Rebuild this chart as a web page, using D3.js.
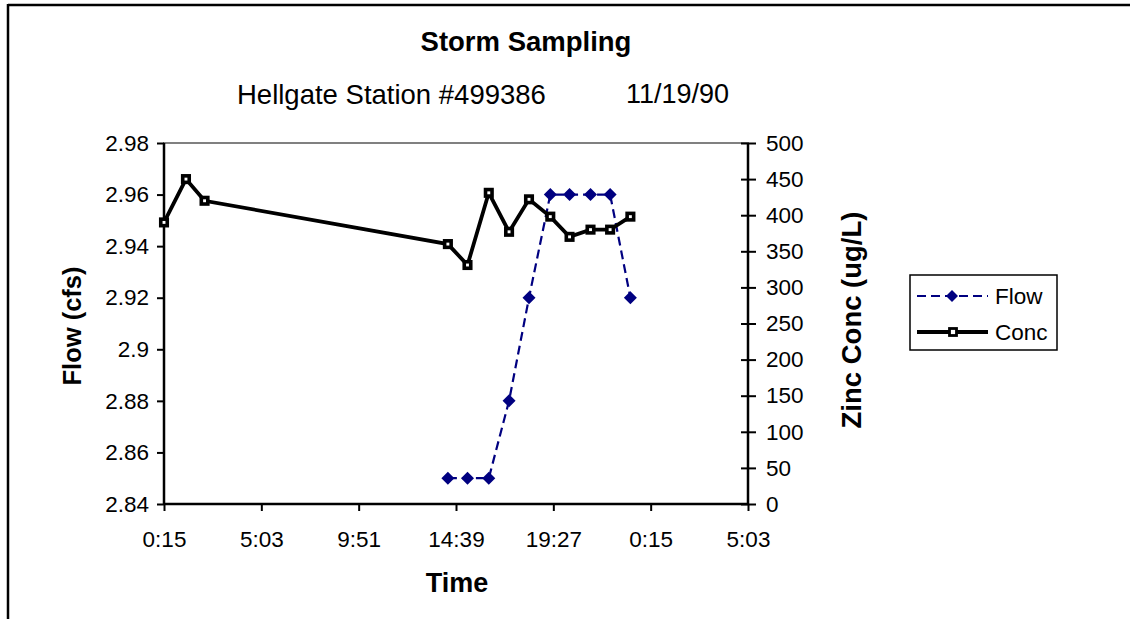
<!DOCTYPE html>
<html>
<head>
<meta charset="utf-8">
<script src="https://cdn.jsdelivr.net/npm/d3@7"></script>
<style>
  html, body { margin: 0; padding: 0; background: #fff; }
  svg { display: block; }
  text { font-family: "Liberation Sans", Arial, sans-serif; fill: #000; }
</style>
</head>
<body>
<svg id="chart" width="1130" height="619"></svg>
<script>
// ---- data ----
const concTimes = ["0:15","1:20","2:15","14:15","15:13","16:16","17:16","18:15","19:18","20:15","21:17","22:15","23:15"];
const concValues = [390, 450, 420, 360, 331, 431, 377, 422, 398, 370, 380, 380, 398];
const flowTimes = ["14:15","15:13","16:16","17:16","18:15","19:18","20:15","21:17","22:15","23:15"];
const flowValues = [2.85, 2.85, 2.85, 2.88, 2.92, 2.96, 2.96, 2.96, 2.96, 2.92];
const xTickLabels = ["0:15","5:03","9:51","14:39","19:27","0:15","5:03"];
const leftTickLabels = ["2.84","2.86","2.88","2.9","2.92","2.94","2.96","2.98"];
const rightTickLabels = ["0","50","100","150","200","250","300","350","400","450","500"];

const toHours = s => { const [h, m] = s.split(":").map(Number); return h + m / 60; };

const svg = d3.select("#chart");
const W = 1130, H = 619;
const L = 164, R = 748, T = 143, B = 504;

const x = d3.scaleLinear().domain([0.25, 29.05]).range([L, R]);
const yL = d3.scaleLinear().domain([2.84, 2.98]).range([B, T]);
const yR = d3.scaleLinear().domain([0, 500]).range([B, T]);

// outer frame (top and left edges visible)
svg.append("line").attr("x1", 8).attr("x2", W).attr("y1", 5).attr("y2", 5)
  .attr("stroke", "#000").attr("stroke-width", 2.5);
svg.append("line").attr("x1", 8).attr("x2", 8).attr("y1", 4).attr("y2", H)
  .attr("stroke", "#000").attr("stroke-width", 2.5);

// titles
svg.append("text").attr("x", 526).attr("y", 51).attr("text-anchor", "middle")
  .attr("font-size", 27.5).attr("font-weight", "bold").text("Storm Sampling");
svg.append("text").attr("x", 237).attr("y", 104)
  .attr("font-size", 27.5).text("Hellgate Station #499386");
svg.append("text").attr("x", 626).attr("y", 103)
  .attr("font-size", 27).text("11/19/90");

// plot area border (grey)
svg.append("rect").attr("x", L).attr("y", T).attr("width", R - L).attr("height", B - T)
  .attr("fill", "none").attr("stroke", "#808080").attr("stroke-width", 2);

// axes
const leftTickVals = leftTickLabels.map(Number);
const gL = svg.append("g").attr("transform", `translate(${L},0)`)
  .call(d3.axisLeft(yL).tickValues(leftTickVals).tickFormat((d, i) => leftTickLabels[i]).tickSize(7).tickPadding(8));
const rightTickVals = rightTickLabels.map(Number);
const gR = svg.append("g").attr("transform", `translate(${R},0)`)
  .call(d3.axisRight(yR).tickValues(rightTickVals).tickFormat((d, i) => rightTickLabels[i]).tickSize(8).tickPadding(10));
gR.selectAll(".tick line").attr("x1", -7);
const xTickVals = xTickLabels.map((d, i) => 0.25 + 4.8 * i);
const gB = svg.append("g").attr("transform", `translate(0,${B})`)
  .call(d3.axisBottom(x).tickValues(xTickVals).tickFormat((d, i) => xTickLabels[i]).tickSize(7).tickPadding(20));

[gL, gR, gB].forEach(g => {
  g.select(".domain").attr("stroke", "#000").attr("stroke-width", 2.5);
  g.selectAll(".tick line").attr("stroke", "#000").attr("stroke-width", 2);
  g.selectAll(".tick text").attr("font-size", 22.5).attr("font-family", "Liberation Sans, Arial, sans-serif").attr("fill", "#000");
});
gL.select(".domain").attr("d", `M0,${B}V${T}`);
gR.select(".domain").attr("d", `M0,${B}V${T}`);
gB.select(".domain").attr("d", `M${L},0H${R}`);

// axis titles
svg.append("text").attr("transform", "translate(81,326) rotate(-90)").attr("text-anchor", "middle")
  .attr("font-size", 25.5).attr("font-weight", "bold").text("Flow (cfs)");
svg.append("text").attr("transform", "translate(861,320) rotate(-90)").attr("text-anchor", "middle")
  .attr("font-size", 27.5).attr("font-weight", "bold").text("Zinc Conc (ug/L)");
svg.append("text").attr("x", 457).attr("y", 592).attr("text-anchor", "middle")
  .attr("font-size", 27).attr("font-weight", "bold").text("Time");

// flow series
const flowData = flowTimes.map((t, i) => ({ t: toHours(t), v: flowValues[i] }));
const navy = "#000080";
svg.append("path").datum(flowData)
  .attr("d", d3.line().x(d => x(d.t)).y(d => yL(d.v)))
  .attr("fill", "none").attr("stroke", navy).attr("stroke-width", 2.2).attr("stroke-dasharray", "9,5");
const diamond = s => `M0,${-s}L${s},0L0,${s}L${-s},0Z`;
svg.append("g").selectAll("path").data(flowData).join("path")
  .attr("transform", d => `translate(${x(d.t)},${yL(d.v)})`)
  .attr("d", diamond(6.5)).attr("fill", navy);

// conc series
const concData = concTimes.map((t, i) => ({ t: toHours(t), v: concValues[i] }));
svg.append("path").datum(concData)
  .attr("d", d3.line().x(d => x(d.t)).y(d => yR(d.v)))
  .attr("fill", "none").attr("stroke", "#000").attr("stroke-width", 3.8).attr("stroke-linejoin", "miter");
svg.append("g").selectAll("rect").data(concData).join("rect")
  .attr("x", d => x(d.t) - 3.25).attr("y", d => yR(d.v) - 3.25)
  .attr("width", 6.5).attr("height", 6.5)
  .attr("fill", "#fff").attr("stroke", "#000").attr("stroke-width", 3.6);

// legend
const lg = svg.append("g");
lg.append("rect").attr("x", 910).attr("y", 275).attr("width", 147).attr("height", 75)
  .attr("fill", "#fff").attr("stroke", "#000").attr("stroke-width", 1.5);
lg.append("line").attr("x1", 917).attr("x2", 988).attr("y1", 296).attr("y2", 296)
  .attr("stroke", navy).attr("stroke-width", 2.2).attr("stroke-dasharray", "9,5");
lg.append("path").attr("transform", "translate(952,296)").attr("d", diamond(6)).attr("fill", navy);
lg.append("text").attr("x", 995).attr("y", 304).attr("font-size", 22.5).text("Flow");
lg.append("line").attr("x1", 917).attr("x2", 988).attr("y1", 332).attr("y2", 332)
  .attr("stroke", "#000").attr("stroke-width", 3.8);
lg.append("rect").attr("x", 949.5).attr("y", 328.5).attr("width", 7).attr("height", 7)
  .attr("fill", "#fff").attr("stroke", "#000").attr("stroke-width", 2.8);
lg.append("text").attr("x", 995).attr("y", 340).attr("font-size", 22.5).text("Conc");
</script>
</body>
</html>
